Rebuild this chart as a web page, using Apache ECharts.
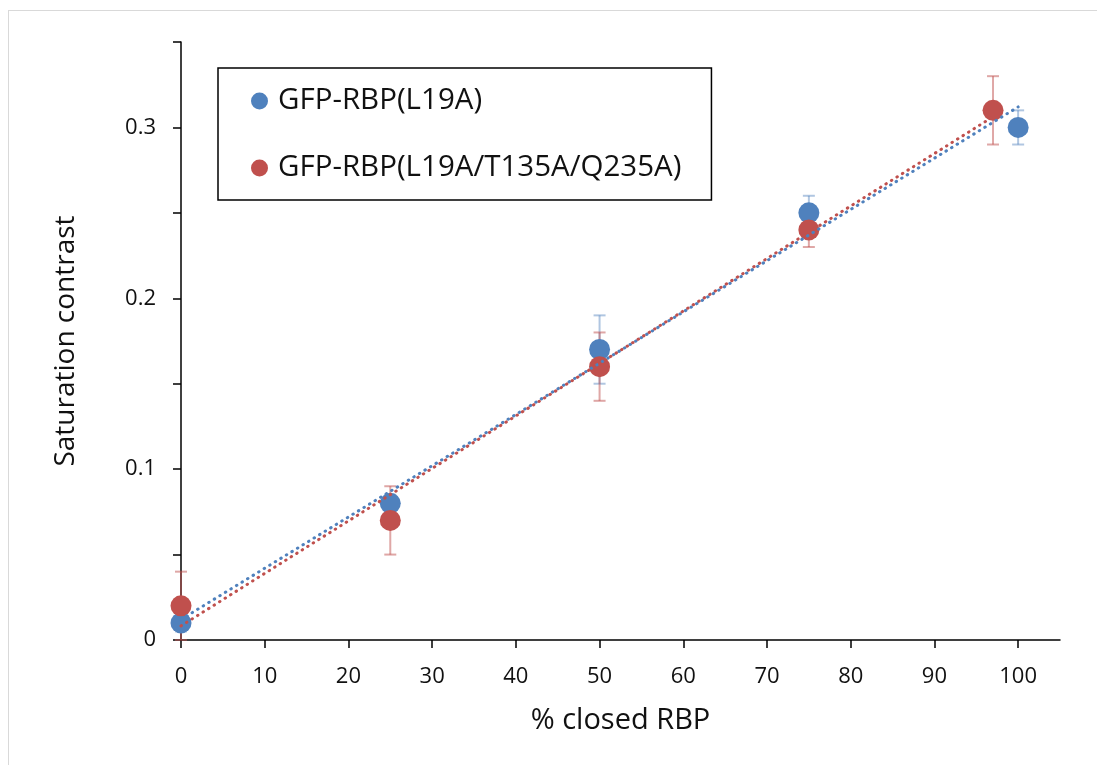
<!DOCTYPE html>
<html>
<head>
<meta charset="utf-8">
<script src="https://cdn.jsdelivr.net/npm/echarts@6/dist/echarts.min.js"></script>
<style>
  html, body { margin: 0; padding: 0; background: #fff; }
  #frame { position: absolute; left: 8px; top: 10px; width: 1095px; height: 760px; border: 1px solid #d9d9d9; }
  #chart { position: absolute; left: 0; top: 0; width: 1097px; height: 765px; }
</style>
</head>
<body>
<div id="frame"></div>
<div id="chart"></div>
<script>
// Percentage of closed RBP and measured saturation contrast (mean, lower / upper error)
const seriesNames = ['GFP-RBP(L19A)', 'GFP-RBP(L19A/T135A/Q235A)'];

const blueX    = [0, 25, 50, 75, 100];
const blueY    = [0.01, 0.08, 0.17, 0.25, 0.30];
const blueLow  = [0.005, 0.075, 0.15, 0.24, 0.29];
const blueHigh = [0.015, 0.085, 0.19, 0.26, 0.31];

const redX    = [0, 25, 50, 75, 97];
const redY    = [0.02, 0.07, 0.16, 0.24, 0.31];
const redLow  = [0.00, 0.05, 0.14, 0.23, 0.29];
const redHigh = [0.04, 0.09, 0.18, 0.25, 0.33];

const xTicks = [0, 10, 20, 30, 40, 50, 60, 70, 80, 90, 100];
const yTicks = [0, 0.05, 0.1, 0.15, 0.2, 0.25, 0.3, 0.35];
const yLabels = [0, 0.1, 0.2, 0.3];

const BLUE = '#4f81bd', RED = '#c0504d';
const BLUE_ERR = 'rgba(79,129,189,0.45)', RED_ERR = 'rgba(192,80,77,0.5)';
const FONT = '"Open Sans", "Noto Sans", sans-serif';

// least-squares linear fit, drawn across the range of the measured x values
function linearFit(xs, ys) {
  const n = xs.length;
  const mx = xs.reduce((a, b) => a + b, 0) / n;
  const my = ys.reduce((a, b) => a + b, 0) / n;
  let sxy = 0, sxx = 0;
  for (let i = 0; i < n; i++) { sxy += (xs[i] - mx) * (ys[i] - my); sxx += (xs[i] - mx) ** 2; }
  const k = sxy / sxx, b = my - k * mx;
  const x0 = Math.min(...xs), x1 = Math.max(...xs);
  return [[x0, k * x0 + b], [x1, k * x1 + b]];
}

function pairs(xs, ys) { return xs.map((x, i) => [x, ys[i]]); }
function errRows(xs, lo, hi) { return xs.map((x, i) => [x, lo[i], hi[i]]); }

function errorBarSeries(rows, color) {
  return {
    type: 'custom',
    z: 1,
    silent: true,
    data: rows,
    renderItem: function (params, api) {
      const x = api.value(0);
      const top = api.coord([x, api.value(2)]);
      const bot = api.coord([x, api.value(1)]);
      const hw = 6;
      const style = { stroke: color, lineWidth: 2, fill: null };
      return {
        type: 'group',
        children: [
          { type: 'line', shape: { x1: top[0], y1: top[1], x2: bot[0], y2: bot[1] }, style },
          { type: 'line', shape: { x1: top[0] - hw, y1: top[1], x2: top[0] + hw, y2: top[1] }, style },
          { type: 'line', shape: { x1: bot[0] - hw, y1: bot[1], x2: bot[0] + hw, y2: bot[1] }, style }
        ]
      };
    }
  };
}

function trendSeries(fit, color) {
  return {
    type: 'line',
    z: 5,
    silent: true,
    data: fit,
    symbol: 'none',
    lineStyle: { color: color, width: 3, type: [0.5, 6], cap: 'round' }
  };
}

const chart = echarts.init(document.getElementById('chart'), null, { renderer: 'canvas' });

chart.setOption({
  animation: false,
  backgroundColor: 'transparent',
  grid: { left: 181, right: 37, top: 42, bottom: 125, containLabel: false },
  legend: {
    data: seriesNames,
    orient: 'vertical',
    left: 218,
    top: 68,
    padding: [15, 30, 14, 33],
    itemGap: 31,
    itemWidth: 17,
    itemHeight: 17,
    icon: 'circle',
    borderColor: '#000',
    borderWidth: 1.5,
    backgroundColor: '#fff',
    textStyle: { fontFamily: FONT, fontSize: 29.5, color: '#111', lineHeight: 36, padding: [0, 0, 0, 5] }
  },
  xAxis: {
    type: 'value',
    min: 0,
    max: 105,
    interval: 10,
    name: '% closed RBP',
    nameLocation: 'middle',
    nameGap: 66,
    nameTextStyle: { fontFamily: FONT, fontSize: 29, color: '#111' },
    splitLine: { show: false },
    axisLine: { show: true, onZero: false, lineStyle: { color: '#000', width: 1.5 } },
    axisTick: { show: true, inside: false, length: 8, customValues: xTicks, lineStyle: { color: '#000', width: 1.5 } },
    axisLabel: { margin: 26, customValues: xTicks, fontFamily: FONT, fontSize: 22, color: '#111' }
  },
  yAxis: {
    type: 'value',
    min: 0,
    max: 0.35,
    interval: 0.05,
    name: 'Saturation contrast',
    nameLocation: 'middle',
    nameGap: 101,
    nameRotate: 90,
    nameTextStyle: { fontFamily: FONT, fontSize: 28, color: '#111' },
    splitLine: { show: false },
    axisLine: { show: true, onZero: false, lineStyle: { color: '#000', width: 1.5 } },
    axisTick: { show: true, inside: false, length: 8, customValues: yTicks, lineStyle: { color: '#000', width: 1.5 } },
    axisLabel: {
      margin: 25,
      customValues: yLabels,
      fontFamily: FONT, fontSize: 22, color: '#111',
      formatter: v => (v === 0 ? '0' : String(Math.round(v * 10) / 10))
    }
  },
  series: [
    errorBarSeries(errRows(blueX, blueLow, blueHigh), BLUE_ERR),
    errorBarSeries(errRows(redX, redLow, redHigh), RED_ERR),
    {
      name: seriesNames[0], type: 'scatter', z: 3,
      data: pairs(blueX, blueY), symbol: 'circle', symbolSize: 21,
      itemStyle: { color: BLUE, opacity: 1 }
    },
    {
      name: seriesNames[1], type: 'scatter', z: 3,
      data: pairs(redX, redY), symbol: 'circle', symbolSize: 21,
      itemStyle: { color: RED, opacity: 1 }
    },
    trendSeries(linearFit(blueX, blueY), BLUE),
    trendSeries(linearFit(redX, redY), RED)
  ]
});
</script>
</body>
</html>
